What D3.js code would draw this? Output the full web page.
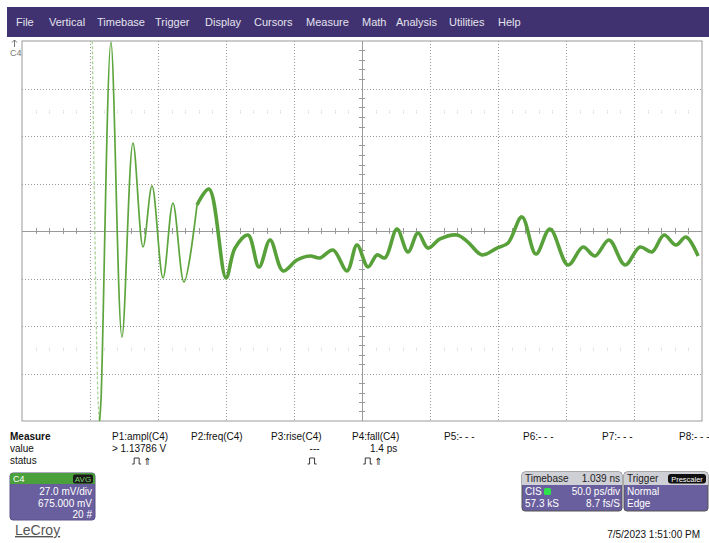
<!DOCTYPE html>
<html><head><meta charset="utf-8">
<script src="https://cdn.jsdelivr.net/npm/d3@7"></script>
<style>
html,body{margin:0;padding:0;background:#fff;}
svg{display:block;font-family:"Liberation Sans",Arial,sans-serif;}
</style></head>
<body>
<svg id="c" width="709" height="543"></svg>
<script>
// ---- data ----
const menuItems = ["File","Vertical","Timebase","Trigger","Display","Cursors","Measure","Math","Analysis","Utilities","Help"];
const menuX = [16,49,97,155,205,254,306,362,396,449,498];
// waveform: time (ps, 50 ps/div) and voltage (mV relative to screen centre, 27 mV/div)
const timePs = [51.5,55.9,57.0,58.1,65.4,73.5,81.6,89.0,95.6,103.7,111.0,119.1,128.7,137.5,150.0,156.6,166.2,174.3,182.4,191.9,202.2,211.8,219.1,228.7,239.0,246.3,254.4,261.0,266.9,275.7,283.8,291.2,298.5,307.4,319.9,327.9,338.2,349.3,357.4,367.6,377.9,388.2,401.5,412.5,421.3,431.6,443.4,454.4,463.2,472.1,480.9,488.2,497.1];
const voltMv = [122,-96,-108.6,-96,107.4,-60.3,50.0,-9.1,25.6,-26.7,15.9,-29.0,14.8,23.9,-26.7,-9.7,-2.3,-20.5,-5.1,-22.7,-16.5,-14.2,-15.3,-10.8,-22.7,-8.0,-20.5,-13.6,-15.3,1.1,-11.9,-1.1,-9.7,-4.5,-2.3,-6.3,-13.6,-9.7,-6.8,8.0,-13.1,1.1,-19.3,-9.1,-14.2,-5.1,-19.3,-9.1,-11.9,-2.3,-8.0,-3.4,-14.2];
const measureLabels = ["P1:ampl(C4)","P2:freq(C4)","P3:rise(C4)","P4:fall(C4)","P5:- - -","P6:- - -","P7:- - -","P8:- - -"];
const measureX = [112,191,271,352,444,523,602,679];
const measureValues = ["> 1.13786 V","","---","1.4 ps","","","",""];
const measureStatus = [true,false,"pulse",true,false,false,false,false];
const chanLines = ["27.0 mV/div","675.000 mV","20 #"];
const timebaseRows = [["Timebase","1.039 ns"],["CIS","50.0 ps/div"],["57.3 kS","8.7 fs/S"]];
const triggerRows = ["Trigger","Normal","Edge"];
const dateText = "7/5/2023 1:51:00 PM";

const svg = d3.select("#c");
const purple = "#403270", boxPurple = "#6a5f9e";

// menu bar
svg.append("rect").attr("x",7).attr("y",7).attr("width",702).attr("height",30).attr("fill",purple);
svg.selectAll("text.menu").data(menuItems).join("text").attr("class","menu")
  .attr("x",(d,i)=>menuX[i]).attr("y",26).attr("font-size",11).attr("fill","#e4e2ee").text(d=>d);

// scales
const x = d3.scaleLinear().domain([0,500]).range([22,702]);
const y = d3.scaleLinear().domain([-108,108]).range([421,41]);
const xTicks = d3.range(0,501,50), yTicks = d3.range(-108,109,27);

const g = svg.append("g");
// frame
g.append("rect").attr("x",x(0)).attr("y",y(108)).attr("width",x(500)-x(0)).attr("height",y(-108)-y(108))
  .attr("fill","#fff").attr("stroke","#9a9a9a").attr("stroke-width",1);
// dotted grid
g.selectAll("line.gx").data(xTicks.slice(1,-1).filter(t=>t!==250)).join("line")
  .attr("x1",d=>Math.round(x(d))+0.5).attr("x2",d=>Math.round(x(d))+0.5).attr("y1",y(108)).attr("y2",y(-108))
  .attr("stroke","#9a9a9a").attr("stroke-dasharray","1,2");
g.selectAll("line.gy").data(yTicks.slice(1,-1).filter(t=>t!==0)).join("line")
  .attr("y1",d=>Math.round(y(d))+0.5).attr("y2",d=>Math.round(y(d))+0.5).attr("x1",x(0)).attr("x2",x(500))
  .attr("stroke","#9a9a9a").attr("stroke-dasharray","1,2");
// centre axes with minor ticks
g.append("line").attr("x1",x(0)).attr("x2",x(500)).attr("y1",Math.round(y(0))+0.5).attr("y2",Math.round(y(0))+0.5).attr("stroke","#9a9a9a");
g.append("line").attr("y1",y(108)).attr("y2",y(-108)).attr("x1",Math.round(x(250))+0.5).attr("x2",Math.round(x(250))+0.5).attr("stroke","#9a9a9a");
const minorX = d3.range(0,500,10).filter(t=>t%50!==0);
const minorY = d3.range(-108,108,5.4).filter(v=>Math.abs(v/27-Math.round(v/27))>0.01);
g.selectAll("line.mx").data(minorX).join("line")
  .attr("x1",d=>Math.round(x(d))+0.5).attr("x2",d=>Math.round(x(d))+0.5).attr("y1",y(0)-3).attr("y2",y(0)+3).attr("stroke","#9a9a9a");
g.selectAll("line.my").data(minorY).join("line")
  .attr("y1",d=>Math.round(y(d))+0.5).attr("y2",d=>Math.round(y(d))+0.5).attr("x1",x(250)-3).attr("x2",x(250)+3).attr("stroke","#9a9a9a");
// faint marker rows at +/-2.5 div
[67.5,-67.5].forEach(v=>{
  g.selectAll(null).data(minorX).join("line")
   .attr("x1",d=>Math.round(x(d))+0.5).attr("x2",d=>Math.round(x(d))+0.5).attr("y1",y(v)-2).attr("y2",y(v)+2)
   .attr("stroke","#cfcfcf").attr("stroke-dasharray","1,1");
});

// channel marker (arrow drawn as a path)
svg.append("path").attr("d","M14.5,47 V40 M12,42.5 L14.5,40 L17,42.5").attr("fill","none").attr("stroke","#777").attr("stroke-width",1);
svg.append("text").attr("x",10).attr("y",56).attr("font-size",9).attr("fill","#777").text("C4");

// trace
svg.append("clipPath").attr("id","clip").append("rect").attr("x",x(0)).attr("y",y(108)).attr("width",x(500)-x(0)).attr("height",y(-108)-y(108));
const pts = timePs.map((t,i)=>[t,voltMv[i]]);
const line = d3.line().x(d=>x(d[0])).y(d=>y(d[1])).curve(d3.curveCatmullRom.alpha(0.5));
const split = timePs.findIndex(t=>t>=128);
const tr = svg.append("g").attr("clip-path","url(#clip)");
tr.append("path").attr("d",line(pts.slice(0,3))).attr("fill","none").attr("stroke","#a8d196").attr("stroke-width",1.3).attr("stroke-dasharray","3,2");
tr.append("path").attr("d",line(pts.slice(2,split+1))).attr("fill","none").attr("stroke","#5ea53e").attr("stroke-width",1.7);
tr.append("path").attr("d",line(pts.slice(split))).attr("fill","none").attr("stroke","#58a03a").attr("stroke-width",3.6).attr("stroke-linejoin","round");

// measure table
const fs = 10;
svg.append("text").attr("x",10).attr("y",440).attr("font-size",fs).attr("font-weight","bold").attr("fill","#111").text("Measure");
svg.append("text").attr("x",10).attr("y",452).attr("font-size",fs).attr("fill","#111").text("value");
svg.append("text").attr("x",10).attr("y",464).attr("font-size",fs).attr("fill","#111").text("status");
measureLabels.forEach((lab,i)=>{
  const t = svg.append("text").attr("x",measureX[i]).attr("y",440).attr("font-size",fs).attr("fill","#111").text(lab);
  const w = t.node().getComputedTextLength();
  const right = measureX[i]+w-2;
  if(measureValues[i]) svg.append("text").attr("x",right).attr("y",452).attr("font-size",fs).attr("fill","#111").attr("text-anchor","end").text(measureValues[i]);
  const st = measureStatus[i];
  if(st){
    const sx = st===true ? right-34 : right-12;
    svg.append("path").attr("d",`M${sx},464 h2 v-6 h5 v6 h2`).attr("fill","none").attr("stroke","#222").attr("stroke-width",0.9);
    if(st===true) svg.append("text").attr("x",sx+11).attr("y",465).attr("font-size",10).attr("fill","#222").attr("font-family","DejaVu Sans").text("\u21D1");
  }
});

// C4 box
const cb = svg.append("g");
cb.append("rect").attr("x",10).attr("y",473).attr("width",85).attr("height",47).attr("rx",3).attr("fill",boxPurple).attr("stroke","#5a5088");
cb.append("path").attr("d","M10,484 V476 a3,3 0 0 1 3,-3 H92 a3,3 0 0 1 3,3 V484 Z").attr("fill","#4aa03a");
cb.append("text").attr("x",13).attr("y",482).attr("font-size",9).attr("fill","#fff").text("C4");
cb.append("rect").attr("x",73).attr("y",474.5).attr("width",20).attr("height",9).attr("rx",2).attr("fill","#1a1a1a");
cb.append("text").attr("x",83).attr("y",482).attr("font-size",8).attr("text-anchor","middle").attr("fill","#7fd66a").text("AVG");
chanLines.forEach((s,i)=>cb.append("text").attr("x",92).attr("y",495+i*11.5).attr("font-size",fs).attr("text-anchor","end").attr("fill","#fff").text(s));

// LeCroy
svg.append("text").attr("x",15).attr("y",535).attr("font-size",14).attr("fill","#555").attr("text-decoration","underline").text("LeCroy");

// timebase box
const tb = svg.append("g");
tb.append("rect").attr("x",522).attr("y",472).attr("width",100).attr("height",39).attr("rx",3).attr("fill",boxPurple).attr("stroke","#555");
tb.append("path").attr("d","M522,485 V475 a3,3 0 0 1 3,-3 H619 a3,3 0 0 1 3,3 V485 Z").attr("fill","#cfcfd6");
timebaseRows.forEach((r,i)=>{
  tb.append("text").attr("x",525).attr("y",482+i*12.5).attr("font-size",fs).attr("fill",i===0?"#222":"#fff").text(r[0]);
  tb.append("text").attr("x",620).attr("y",482+i*12.5).attr("font-size",fs).attr("text-anchor","end").attr("fill",i===0?"#222":"#fff").text(r[1]);
});
tb.append("rect").attr("x",544).attr("y",488).attr("width",7).attr("height",7).attr("rx",1.5).attr("fill","#2ee04a");
// trigger box
const trg = svg.append("g");
trg.append("rect").attr("x",624).attr("y",472).attr("width",84).attr("height",39).attr("rx",3).attr("fill",boxPurple).attr("stroke","#555");
trg.append("path").attr("d","M624,485 V475 a3,3 0 0 1 3,-3 H705 a3,3 0 0 1 3,3 V485 Z").attr("fill","#cfcfd6");
triggerRows.forEach((s,i)=>trg.append("text").attr("x",627).attr("y",482+i*12.5).attr("font-size",fs).attr("fill",i===0?"#222":"#fff").text(s));
trg.append("rect").attr("x",668).attr("y",474).attr("width",38).attr("height",9.5).attr("rx",3).attr("fill","#111");
trg.append("text").attr("x",687).attr("y",481.5).attr("font-size",7.5).attr("text-anchor","middle").attr("fill","#fff").text("Prescaler");

svg.append("text").attr("x",700).attr("y",538).attr("font-size",fs).attr("text-anchor","end").attr("fill","#111").text(dateText);
</script>
</body></html>
